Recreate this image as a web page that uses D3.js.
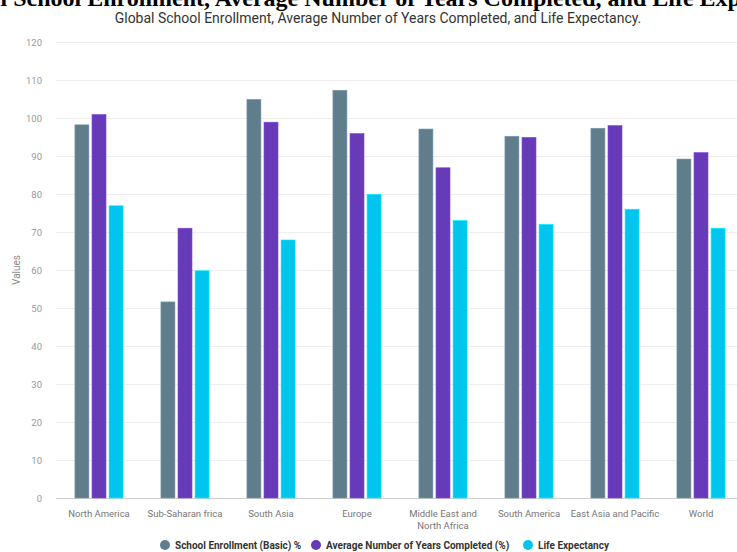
<!DOCTYPE html>
<html>
<head>
<meta charset="utf-8">
<script src="https://cdn.jsdelivr.net/npm/d3@7"></script>
<style>
  html, body { margin: 0; padding: 0; background: #fff; overflow: hidden; }
  svg { display: block; }
</style>
</head>
<body>
<script>
const categories = ["North America", "Sub-Saharan frica", "South Asia", "Europe", "Middle East and North Africa", "South America", "East Asia and Pacific", "World"];
const seriesNames = ["School Enrollment (Basic) %", "Average Number of Years Completed (%)", "Life Expectancy"];
const enrollment = [98.2, 51.6, 104.9, 107.3, 97.1, 95.2, 97.3, 89.2];
const yearsCompleted = [100.9, 71, 98.9, 95.9, 86.9, 94.9, 98, 90.9];
const lifeExpectancy = [76.9, 59.8, 67.9, 79.9, 73, 72, 76, 71];
const yTicks = [0, 10, 20, 30, 40, 50, 60, 70, 80, 90, 100, 110, 120];
const colors = ["#607d8b", "#673ab7", "#00c5ef"];

const W = 737, H = 552;
const svg = d3.select("body").append("svg").attr("width", W).attr("height", H);

const series = [enrollment, yearsCompleted, lifeExpectancy];
const rows = categories.map((c, i) => ({ cat: c, vals: series.map(s => s[i]) }));

const x0 = d3.scaleBand().domain(categories).range([56, 744]).paddingInner(0.44).paddingOuter(0.22);
const x1 = d3.scaleBand().domain(seriesNames).range([0, x0.bandwidth()]).paddingInner(0.18).paddingOuter(0);
const y = d3.scaleLinear().domain([0, 120]).range([498, 42]);

// cut-off top heading (only its lower edge is visible in the reference)
svg.append("text")
  .attr("x", 378).attr("y", 6)
  .attr("text-anchor", "middle")
  .attr("font-family", "Liberation Serif, Times New Roman, serif")
  .attr("font-weight", "bold")
  .attr("font-size", 24)
  .attr("fill", "#000")
  .text("Global School Enrollment, Average Number of Years Completed, and Life Expectancy");

// subtitle
svg.append("text")
  .attr("x", 378).attr("y", 23)
  .attr("text-anchor", "middle")
  .attr("font-family", "Roboto, sans-serif")
  .attr("font-size", 14)
  .attr("fill", "#333")
  .text("Global School Enrollment, Average Number of Years Completed, and Life Expectancy.");

// grid + y axis
const yAxis = d3.axisLeft(y).tickValues(yTicks).tickSize(-(744 - 56)).tickPadding(14);
const gy = svg.append("g").attr("transform", "translate(56,0)").call(yAxis);
gy.select(".domain").remove();
gy.selectAll(".tick line").attr("stroke", d => d === 0 ? "#cfcfcf" : "#eeeeee").attr("stroke-width", 1);
gy.selectAll(".tick text").attr("font-family", "Roboto, sans-serif").attr("font-size", 9.5).attr("fill", "#999");

// y axis title
svg.append("text")
  .attr("transform", "translate(20,270) rotate(-90)")
  .attr("text-anchor", "middle")
  .attr("font-family", "Roboto, sans-serif")
  .attr("font-size", 10)
  .attr("fill", "#888")
  .text("Values");

// bars
const groups = svg.append("g").selectAll("g").data(rows).join("g")
  .attr("transform", d => `translate(${x0(d.cat)},0)`);
groups.selectAll("rect").data(d => d.vals.map((v, k) => ({ v, k }))).join("rect")
  .attr("x", d => x1(seriesNames[d.k]))
  .attr("y", d => y(d.v))
  .attr("width", x1.bandwidth())
  .attr("height", d => y(0) - y(d.v))
  .attr("fill", d => colors[d.k])
  .attr("stroke", d => d3.color(colors[d.k]).brighter(0.6))
  .attr("stroke-width", 0.6);

// x axis labels
const xAxis = d3.axisBottom(x0).tickSize(0).tickPadding(12);
const gx = svg.append("g").attr("transform", "translate(0,498)").call(xAxis);
gx.select(".domain").remove();
gx.selectAll(".tick text")
  .attr("font-family", "Roboto, sans-serif").attr("font-size", 9.5).attr("fill", "#777")
  .each(function(d) {
    const t = d3.select(this);
    if (d === "Middle East and North Africa") {
      t.text(null);
      t.append("tspan").attr("x", 0).attr("dy", "0.71em").text("Middle East and");
      t.append("tspan").attr("x", 0).attr("dy", "1.25em").text("North Africa");
      t.attr("dy", null);
    }
  });

// legend
const legendX = [165, 316, 528];
const leg = svg.append("g").selectAll("g").data(seriesNames).join("g")
  .attr("transform", (d, i) => `translate(${legendX[i]},545)`);
leg.append("circle").attr("r", 5).attr("fill", (d, i) => colors[i]);
leg.append("text").attr("x", 10).attr("y", 0).attr("dy", "0.35em")
  .attr("font-family", "Roboto, sans-serif").attr("font-weight", "bold")
  .attr("font-size", 10).attr("fill", "#333")
  .text(d => d);
</script>
</body>
</html>
